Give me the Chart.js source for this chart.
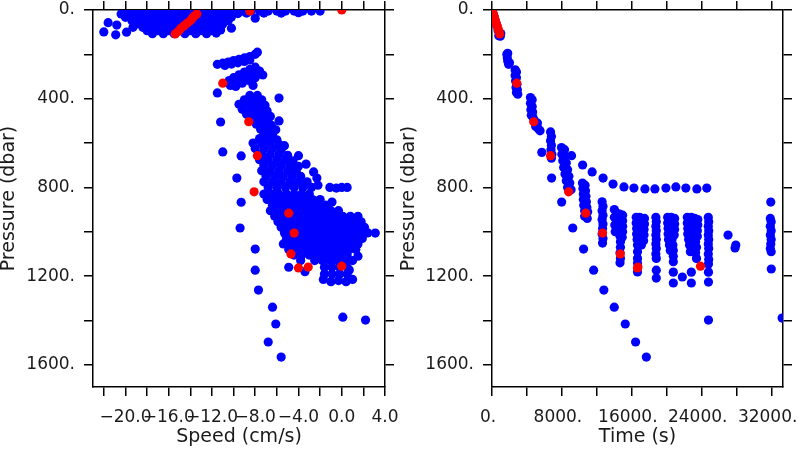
<!DOCTYPE html>
<html>
<head>
<meta charset="utf-8">
<script src="https://cdn.jsdelivr.net/npm/chart.js@4"></script>
<style>
  html, body { margin: 0; padding: 0; background: #fff; }
  #wrap { position: relative; width: 800px; height: 450px; }
  canvas { position: absolute; top: 0; }
  #speed_chart { left: 0; }
  #time_chart { left: 400px; }
</style>
</head>
<body>
<div id="wrap">
  <canvas id="speed_chart" width="400" height="450"></canvas>
  <canvas id="time_chart" width="400" height="450"></canvas>
</div>
<script>
// ---- ticks ----
const pressureTicks = [0, 200, 400, 600, 800, 1000, 1200, 1400, 1600];
const pressureLabelled = [0, 400, 800, 1200, 1600];
const speedTicks = [-22, -20, -18, -16, -14, -12, -10, -8, -6, -4, -2, 0, 2, 4];
const speedLabelled = [-20, -16, -12, -8, -4, 0, 4];
const timeTicks = [0, 4000, 8000, 12000, 16000, 20000, 24000, 28000, 32000];
const timeLabelled = [0, 8000, 16000, 24000, 32000];

// ---- red samples (same samples in both panels) ----
const redPressure = [0, 5, 18, 26, 36, 48, 60, 72, 84, 96, 108, 330, 504, 657, 820, 916, 1006, 1100, 1163, 1159, 1155];
const redSpeed = [0.0, -8.5, -13.4, -13.6, -13.8, -14.0, -14.3, -14.6, -14.9, -15.1, -15.4, -11.0, -8.6, -7.8, -8.1, -4.9, -4.4, -4.7, -4.0, -3.1, 0.0];
const redTime = [0, 40, 130, 200, 290, 390, 490, 590, 690, 790, 880, 2830, 4770, 6700, 8770, 10720, 12650, 14680, 16650, 16700, 23860];

// ---- blue, speed vs pressure ----
const speedSurface = [
  [-20,5],[-19,5],[-18,5],[-17,5],[-16,5],[-15,5],[-14,5],[-13,5],[-12,5],[-11,5],[-10,5],[-9.2,5],[-8.4,5],[-7.6,5],[-6.8,5],[-6,5],[-5.2,5],[-4.4,5],[-3.6,5],[-2.8,5],[-2,5],
  [-20.4,18],[-19.5,18],[-18.5,18],[-17.5,18],[-16.5,18],[-15.5,18],[-14.5,18],[-13.5,18],[-12.5,18],[-11.5,18],[-10.5,18],[-9.6,16],[-8.8,14],[-7.2,14],[-5.6,14],[-4.0,12],
  [-20.0,33],[-19.0,33],[-18.0,33],[-17.0,33],[-16.0,33],[-15.0,33],[-14.0,33],[-13.0,33],[-12.0,33],[-11.0,33],[-10.2,32],[-8.0,37],
  [-19.4,48],[-18.4,48],[-17.4,48],[-16.4,48],[-15.4,48],[-14.4,48],[-13.4,48],[-12.4,48],[-11.4,48],[-10.5,48],
  [-19.0,63],[-18.0,63],[-17.0,63],[-16.0,63],[-15.0,63],[-14.0,63],[-13.0,63],[-12.0,63],[-11.0,63],
  [-19.3,78],[-18.4,78],[-17.4,78],[-16.4,78],[-15.4,78],[-14.4,78],[-13.4,78],[-12.4,78],[-11.4,78],
  [-18.0,93],[-17.0,93],[-16.0,93],[-15.0,93],[-14.0,93],[-13.0,93],[-12.0,93],[-11.2,90],
  [-17.5,107],[-16.5,107],[-15.5,107],[-14.5,107],[-13.5,107],[-12.5,107],[-11.6,104],
  [-21.6,57],[-20.8,68],[-22.0,99],[-20.9,112],[-19.9,100],[-10.2,82]
];
const speedMid = [
  [-11.5,245],[-11.0,240],[-10.5,235],[-10.0,228],[-9.5,222],[-9.0,216],[-8.5,210],[-8.0,200],[-7.8,190],
  [-10.8,250],[-10.2,244],[-9.6,238],[-9.0,232],[-8.5,226],
  [-8.0,258],[-8.5,268],[-9.0,280],[-9.5,292],[-10.0,305],[-10.4,318],[-7.6,275],[-8.2,285],[-8.8,297],
  [-9.4,310],[-9.9,325],[-10.3,340],[-8.0,305],[-8.6,318],[-9.2,330],[-9.8,345],[-7.3,293],[-8.2,340],[-11.5,374],
  [-8.5,385],[-7.8,385],[-9.0,405],[-8.2,405],[-7.4,405],[-9.5,425],[-8.7,425],[-7.9,425],[-7.1,430],
  [-9.2,448],[-8.4,448],[-7.6,448],[-6.9,455],[-8.8,470],[-8.0,470],[-7.3,470],[-6.6,480],
  [-8.3,492],[-7.6,492],[-6.9,500],[-7.9,515],[-7.2,515],[-6.5,520],[-7.5,538],[-6.8,538],[-6.1,540],
  [-7.2,560],[-6.4,560],[-11.2,505],[-5.8,397],[-5.8,500],[-6.7,482],[-5.3,612]
];
const speedDeep = [
  [-7.6,580],[-6.8,580],[-6.0,585],
  [-8.2,600],[-7.4,600],[-6.6,600],[-5.8,605],
  [-8.0,625],[-7.2,625],[-6.4,625],[-5.6,630],
  [-7.4,650],[-6.6,650],[-5.8,650],[-5.0,655],
  [-7.6,675],[-6.8,675],[-6.0,675],[-5.2,675],[-4.5,680],
  [-7.2,700],[-6.4,700],[-5.6,700],[-4.8,700],[-4.0,705],
  [-7.4,725],[-6.6,725],[-5.8,725],[-5.0,725],[-4.2,725],
  [-7.0,750],[-6.2,750],[-5.4,750],[-4.6,750],[-3.8,750],
  [-7.2,775],[-6.4,775],[-5.6,775],[-4.8,775],[-4.0,775],[-3.2,775],
  [-6.8,800],[-6.0,800],[-5.2,800],[-4.4,800],[-3.6,800],[-2.8,800],
  [-7.2,830],[-6.5,830],[-5.8,830],[-5.1,830],[-4.4,830],[-3.7,830],[-3.0,830],
  [-6.9,855],[-6.2,855],[-5.5,855],[-4.8,855],[-4.1,855],[-3.4,855],[-2.7,855],[-2.0,855],
  [-6.4,880],[-5.7,880],[-5.0,880],[-4.3,880],[-3.6,880],[-2.9,880],[-2.2,880],[-1.5,880],
  [-6.6,905],[-5.9,905],[-5.2,905],[-4.5,905],[-3.8,905],[-3.1,905],[-2.4,905],[-1.7,905],[-1.0,905],[-0.3,905],
  [-6.2,930],[-5.5,930],[-4.8,930],[-4.1,930],[-3.4,930],[-2.7,930],[-2.0,930],[-1.3,930],[-0.6,930],[0.1,930],[0.8,930],[1.5,930],
  [-5.9,955],[-5.2,955],[-4.5,955],[-3.8,955],[-3.1,955],[-2.4,955],[-1.7,955],[-1.0,955],[-0.3,955],[0.4,955],[1.1,955],[1.8,955],
  [-5.6,980],[-4.9,980],[-4.2,980],[-3.5,980],[-2.8,980],[-2.1,980],[-1.4,980],[-0.7,980],[0.0,980],[0.7,980],[1.4,980],[2.1,980],
  [-5.3,1005],[-4.6,1005],[-3.9,1005],[-3.2,1005],[-2.5,1005],[-1.8,1005],[-1.1,1005],[-0.4,1005],[0.3,1005],[1.0,1005],[1.7,1005],[2.4,1005],
  [-5.1,1030],[-4.4,1030],[-3.7,1030],[-3.0,1030],[-2.3,1030],[-1.6,1030],[-0.9,1030],[-0.2,1030],[0.5,1030],[1.2,1030],[1.9,1030],
  [-5.4,1055],[-4.7,1055],[-4.0,1055],[-3.3,1055],[-2.6,1055],[-1.9,1055],[-1.2,1055],[-0.5,1055],[0.2,1055],[0.9,1055],[1.5,1055],
  [-4.9,1080],[-4.2,1080],[-3.5,1080],[-2.8,1080],[-2.1,1080],[-1.4,1080],[-0.7,1080],[0.0,1080],[0.7,1080],[1.3,1080],
  [-4.4,1105],[-3.7,1105],[-3.0,1105],[-2.3,1105],[-1.6,1105],[-0.9,1105],[-0.2,1105],[0.5,1105],[1.5,1110],
  [-3.8,1130],[-2.5,1130],[-1.8,1130],[-1.1,1130],[-0.4,1130],[0.3,1130],[1.0,1130],
  [-4.9,1160],[-3.4,1180],[-1.6,1160],[-0.9,1160],[-0.2,1160],[0.5,1160],[0.7,1172],
  [-1.6,1190],[-0.9,1190],[-0.2,1190],[0.5,1190],
  [-1.7,1215],[-1.0,1225],[-0.3,1220],[0.4,1225],[1.0,1215],
  [-9.3,658],[-11.0,640],[-9.7,758],[-4.0,657],[-3.3,695],[-2.6,730],[-2.3,758],[-2.2,790],
  [-1.1,800],[-0.5,803],[0.0,800],[0.5,800],[-9.3,867],[-0.9,866],[3.1,1006],[-9.4,983],
  [-8.0,1078],[-8.0,1173],[-7.7,1263],[-6.4,1340],[-6.1,1416],[-6.8,1497],[-5.6,1565],[0.1,1385],[2.2,1398]
];

// ---- blue, time vs pressure ----
const timeDescent = [
  [100,12],[250,30],[400,50],[550,70],[700,92],[850,108],[950,118],[1000,106],[780,116],
  [1700,200],[1750,215],[1800,230],[1900,245],[2000,238],[1800,195],
  [2650,270],[2800,280],[2650,295],[2800,305],[2700,320],[2850,335],[2750,350],[2900,360],[2800,372],[2950,380],
  [4400,395],[4600,405],[4400,420],[4600,435],[4450,450],[4650,460],[4500,475],[4700,485],[4900,500],[5200,510],[5000,525],[5300,535],[5500,545],
  [6700,550],[6800,570],[6700,590],[6800,610],[6750,630],[6850,650],[6800,668],
  [7950,620],[8300,630],[8000,650],[8400,660],[8100,680],[8500,690],[8200,710],[8650,720],[8350,740],[8800,750],
  [8500,770],[8900,780],[8650,800],[9050,810],[9100,657]
];
const timeDots = [
  [10370,699],[11460,730],[12710,758],[13850,785],[15100,798],[16240,803],[17500,807],
  [18640,807],[19900,803],[21040,798],[22180,803],[23440,807],[24580,803]
];
const timeColumns = [
  [10350,780],[10650,790],[10400,805],[10700,815],[10450,830],[10750,840],[10450,855],[10800,865],[10500,880],
  [10850,890],[10600,905],[10950,910],[10600,930],[10900,940],
  [12600,865],[12700,885],[12600,905],[12700,925],[12600,945],[12700,965],[12650,985],[12600,1010],[12700,1030],[12650,1051],
  [14000,900],[14250,915],[14000,935],[14250,950],[14050,970],[14250,985],[14100,1000],
  [14600,920],[14950,925],[14600,945],[14950,950],[14600,970],[14950,975],[14650,995],[14950,1000],[14650,1020],
  [14900,1025],[14700,1045],[14700,1070],[14650,1095],[14700,1120],[14650,1140],
  [16500,935],[16900,935],[17450,940],[16500,960],[16900,960],[17450,965],[16550,985],[16950,985],[17400,990],
  [16550,1010],[16950,1010],[17400,1015],[16600,1035],[17000,1035],[17350,1040],[16650,1060],[17100,1060],
  [16650,1090],[16650,1120],[16650,1141],[16650,1181],
  [18750,935],[18800,955],[18750,975],[18800,995],[18750,1015],[18800,1035],[18750,1055],[18800,1075],[18750,1100],
  [18800,1120],[18800,1173],[18800,1209],
  [20100,935],[20500,935],[20900,940],[20100,960],[20500,960],[20900,965],[20150,985],[20550,985],[20900,990],
  [20150,1010],[20550,1010],[20850,1015],[20200,1035],[20600,1035],[20300,1060],[20700,1060],[20400,1085],[20750,1085],
  [20750,1110],[20750,1135],[20750,1182],[20750,1231],
  [22350,935],[22800,935],[23200,940],[23550,945],[22350,960],[22800,960],[23200,965],[23550,970],[22400,985],
  [22850,985],[23250,990],[23500,995],[22400,1010],[22850,1010],[23250,1015],[23500,1020],[22500,1035],[22900,1040],
  [23300,1045],[22600,1060],[23000,1065],[23400,1070],[22700,1090],[23300,1095],[23400,1120],
  [21780,1204],[22810,1182],[22810,1231],
  [24750,935],[24800,955],[24750,975],[24800,995],[24750,1015],[24800,1035],[24750,1055],[24800,1075],[24750,1100],
  [24800,1125],[24770,1145],[24770,1182],[24770,1227],
  [31900,866],[31850,940],[31950,955],[31850,975],[31950,995],[31850,1015],[31950,1035],[31900,1055],[31850,1075],
  [31950,1090],[31960,1168]
];
const timeOutliers = [
  [5700,642],[6820,758],[7970,866],[9240,983],[10480,1078],[11630,1173],[12800,1263],[13990,1340],[15250,1416],
  [16430,1497],[17660,1565],[24770,1398],[27010,1015],[27810,1073],[27900,1060],[33200,1389]
];

// ---- drawing ----
const ink = "#1a1a1a";
const tickFont = { family: "DejaVu Sans", size: 17 };
const titleFont = { family: "DejaVu Sans", size: 19, lineHeight: 1 };
const line = { color: "#000", width: 1.5 };
const grid = { drawOnChartArea: false, tickLength: 9, color: "#000", tickColor: "#000", lineWidth: 1.5 };

const toPoints = (pairs) => pairs.map(([x, y]) => ({ x, y }));
const setTicks = (values) => (scale) => { scale.ticks = values.map((value) => ({ value })); };
const speedText = (v) => (v < 0 ? "\u2212" : "") + Math.abs(v).toFixed(1);
// fixed axis box sizes, no extra room for overhanging labels
const fixBox = (prop, size) => (scale) => {
  scale[prop] = size;
  scale.paddingTop = scale.paddingBottom = scale.paddingLeft = scale.paddingRight = 0;
};

const drawPanel = (id, xTitle, blue, red, xMin, xMax, xTicks, xLabel, leftW, rightW, shift) => {
  const xRange = { type: "linear", min: xMin, max: xMax, afterBuildTicks: setTicks(xTicks) };
  const yRange = { type: "linear", min: 0, max: 1700, reverse: true, afterBuildTicks: setTicks(pressureTicks) };
  new Chart(document.getElementById(id), {
    type: "scatter",
    data: {
      datasets: [
        { data: toPoints(red), backgroundColor: "#ff0000", borderWidth: 0, pointRadius: 4.6, clip: 0, xAxisID: "x", yAxisID: "y" },
        { data: toPoints(blue), backgroundColor: "#0000ff", borderWidth: 0, pointRadius: 4.6, clip: 0, xAxisID: "x", yAxisID: "y" },
      ],
    },
    options: {
      responsive: false,
      animation: false,
      events: [],
      devicePixelRatio: 1,
      layout: { padding: 0, autoPadding: false },
      plugins: { legend: { display: false }, tooltip: { enabled: false } },
      scales: {
        x: {
          ...xRange, position: "bottom", border: line, grid,
          afterFit: fixBox("height", 63),
          ticks: { autoSkip: false, maxRotation: 0, minRotation: 0, padding: 11, labelOffset: shift, color: ink, font: tickFont,
            callback: (v) => (xLabel.list.includes(v) ? xLabel.fmt(v) : "") },
          title: { display: true, text: xTitle, color: ink, font: titleFont, padding: { top: 0, bottom: 3 } },
        },
        x2: {
          ...xRange, position: "top", border: line, grid,
          afterFit: fixBox("height", 10),
          ticks: { display: false },
        },
        y: {
          ...yRange, position: "left", border: line, grid,
          afterFit: fixBox("width", leftW),
          ticks: { autoSkip: false, padding: 9, color: ink, font: tickFont,
            callback: (v) => (pressureLabelled.includes(v) ? v + "." : "") },
          title: { display: true, text: "Pressure (dbar)", color: ink, font: titleFont, padding: { top: 0, bottom: 0 } },
        },
        y2: {
          ...yRange, position: "right", border: line, grid,
          afterFit: fixBox("width", rightW),
          ticks: { display: false },
        },
      },
    },
  });
};

const redSpeedPts = redSpeed.map((s, i) => [s, redPressure[i]]);
const redTimePts = redTime.map((t, i) => [t, redPressure[i]]);

drawPanel("speed_chart", "Speed (cm/s)", [...speedSurface, ...speedMid, ...speedDeep], redSpeedPts,
  -23, 4, speedTicks, { list: speedLabelled, fmt: speedText }, 93, 15, 0);
drawPanel("time_chart", "Time (s)", [...timeDescent, ...timeDots, ...timeColumns, ...timeOutliers], redTimePts,
  0, 33300, timeTicks, { list: timeLabelled, fmt: (v) => v + "." }, 92, 17, -4);
</script>
</body>
</html>
